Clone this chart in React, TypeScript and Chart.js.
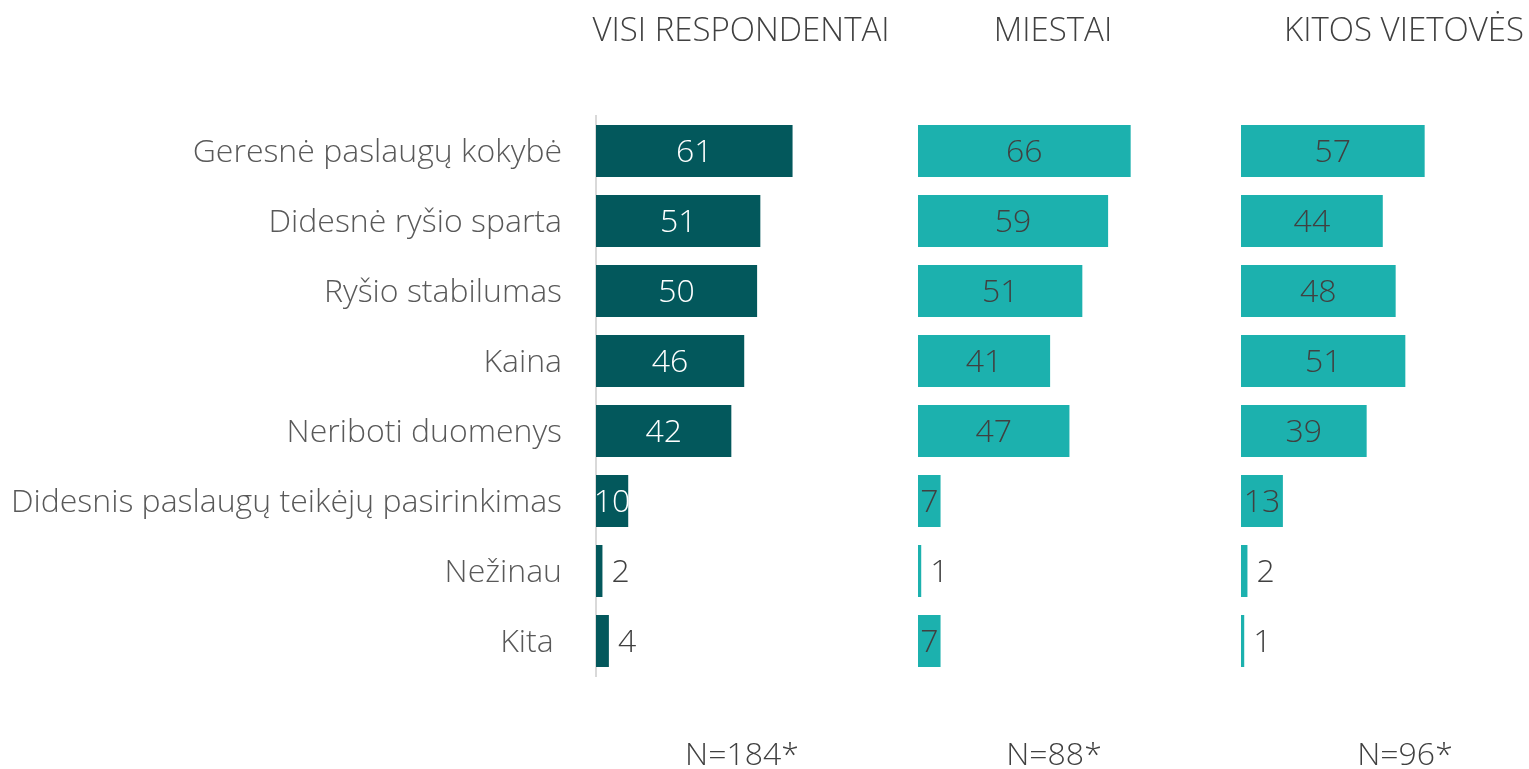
import React, { useEffect, useRef } from "react";
import { Chart, registerables } from "chart.js";

Chart.register(...registerables);

const categories = [
  "Geresnė paslaugų kokybė",
  "Didesnė ryšio sparta",
  "Ryšio stabilumas",
  "Kaina",
  "Neriboti duomenys",
  "Didesnis paslaugų teikėjų pasirinkimas",
  "Nežinau",
  "Kita ",
];
const visiValues = [61, 51, 50, 46, 42, 10, 2, 4];
const miestaiValues = [66, 59, 51, 41, 47, 7, 1, 7];
const kitosValues = [57, 44, 48, 51, 39, 13, 2, 1];

const panelTitles = ["VISI RESPONDENTAI", "MIESTAI", "KITOS VIETOVĖS"];
const sampleLabels = ["N=184*", "N=88*", "N=96*"];

const FONT = "'Open Sans', 'DejaVu Sans', sans-serif";
const TEXT = "#595959";
const VALUE_TEXT = "#404040";
const DARK = "#03585C";
const TEAL = "#1CB1AE";

const TOP = 116;
const BOTTOM = 769 - 676;

function valueLabelPlugin(insideColor: string, outsideColor: string) {
  return {
    id: "valueLabels",
    afterDatasetsDraw(chart: any) {
      const ctx = chart.ctx;
      const meta = chart.getDatasetMeta(0);
      const data = chart.data.datasets[0].data as number[];
      ctx.save();
      ctx.font = `300 32px ${FONT}`;
      ctx.textBaseline = "middle";
      meta.data.forEach((bar: any, i: number) => {
        const v = data[i];
        const { x, y, base } = bar.getProps(["x", "y", "base"], true);
        if (v >= 5) {
          ctx.fillStyle = insideColor;
          ctx.textAlign = "center";
          ctx.fillText(String(v), (x + base) / 2, y + 2);
        } else {
          ctx.fillStyle = outsideColor;
          ctx.textAlign = "left";
          ctx.fillText(String(v), x + 9, y + 2);
        }
      });
      ctx.restore();
    },
  };
}

type PanelProps = {
  values: number[];
  color: string;
  left: number;
  width: number;
  withAxis: boolean;
  insideColor: string;
};

function Panel({ values, color, left, width, withAxis, insideColor }: PanelProps) {
  const ref = useRef<HTMLCanvasElement | null>(null);
  useEffect(() => {
    if (!ref.current) return;
    const chart = new Chart(ref.current, {
      type: "bar",
      data: {
        labels: categories,
        datasets: [
          {
            data: values,
            backgroundColor: color,
            borderWidth: 0,
            categoryPercentage: 1,
            barPercentage: 0.743,
          },
        ],
      },
      options: {
        indexAxis: "y",
        responsive: false,
        animation: false,
        layout: { padding: { top: TOP, bottom: BOTTOM, left: 0, right: 0 } },
        plugins: {
          legend: { display: false },
          tooltip: { enabled: false },
          title: { display: false },
        },
        scales: {
          x: { display: false, min: 0, max: 90 },
          y: withAxis
            ? {
                display: true,
                grid: { display: false, drawTicks: false, tickLength: 0 },
                border: { display: true, color: "#D9D9D9", width: 2 },
                ticks: {
                  color: TEXT,
                  padding: 34,
                  labelOffset: 2,
                  font: { family: FONT, size: 32, weight: 300 as any },
                },
                afterFit: (scale: any) => {
                  scale.width = 596;
                },
              }
            : { display: false },
        },
      },
      plugins: [valueLabelPlugin(insideColor, VALUE_TEXT)],
    } as any);
    return () => chart.destroy();
  }, []);
  return (
    <canvas
      ref={ref}
      width={width}
      height={769}
      style={{ position: "absolute", left, top: 0, width, height: 769 }}
    />
  );
}

const textStyle: React.CSSProperties = {
  position: "absolute",
  transform: "translate(-50%, -50%)",
  whiteSpace: "nowrap",
  fontFamily: FONT,
  fontWeight: 300,
  fontSize: 32,
  color: "#404040",
  lineHeight: "1",
};

export default function App() {
  const centers = [741, 1053, 1404];
  return (
    <div
      style={{
        position: "fixed",
        left: 0,
        top: 0,
        width: 1529,
        height: 769,
        background: "#fff",
        overflow: "hidden",
      }}
    >
      <Panel values={visiValues} color={DARK} left={0} width={886} withAxis insideColor="#FFFFFF" />
      <Panel values={miestaiValues} color={TEAL} left={918} width={290} withAxis={false} insideColor={VALUE_TEXT} />
      <Panel values={kitosValues} color={TEAL} left={1241} width={290} withAxis={false} insideColor={VALUE_TEXT} />
      {panelTitles.map((t, i) => (
        <div key={t} style={{ ...textStyle, left: centers[i], top: 28, fontSize: 33 }}>
          {t}
        </div>
      ))}
      {sampleLabels.map((t, i) => (
        <div key={t} style={{ ...textStyle, left: centers[i] + 1, top: 753 }}>
          {t}
        </div>
      ))}
    </div>
  );
}
